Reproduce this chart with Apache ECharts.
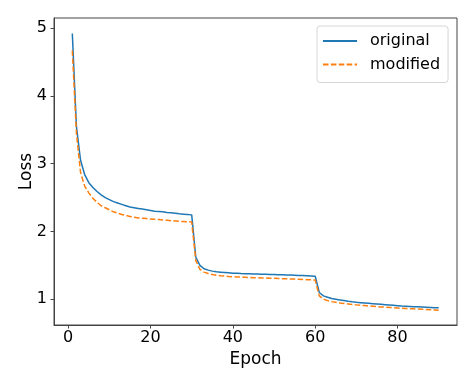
<!DOCTYPE html>
<html>
<head>
<meta charset="utf-8">
<script src="https://cdn.jsdelivr.net/npm/echarts@6/dist/echarts.min.js"></script>
<style>html,body{margin:0;padding:0;background:#fff}#c{width:474px;height:385px}</style>
</head>
<body>
<div id="c"></div>
<script>
var epochs = [];
for (var i = 1; i <= 90; i++) epochs.push(i);
var xTicks = [0, 20, 40, 60, 80];
var yTicks = [1, 2, 3, 4, 5];
var original = [
4.92,3.55,3.05,2.84,2.72,2.65,2.59,2.54,2.50,2.47,
2.44,2.42,2.40,2.38,2.36,2.35,2.34,2.33,2.32,2.31,
2.30,2.295,2.29,2.28,2.275,2.27,2.26,2.255,2.25,2.245,
1.62,1.50,1.45,1.43,1.415,1.405,1.40,1.395,1.39,1.385,
1.383,1.38,1.378,1.376,1.374,1.372,1.37,1.368,1.366,1.364,
1.362,1.36,1.358,1.356,1.354,1.352,1.35,1.347,1.344,1.34,
1.10,1.05,1.03,1.01,1.00,0.99,0.98,0.97,0.962,0.955,
0.95,0.945,0.94,0.935,0.93,0.925,0.92,0.915,0.91,0.905,
0.90,0.897,0.894,0.891,0.888,0.885,0.882,0.879,0.876,0.873
];
var modified = [
4.67,3.45,2.87,2.67,2.57,2.49,2.43,2.38,2.35,2.32,
2.29,2.27,2.25,2.24,2.22,2.21,2.20,2.195,2.19,2.185,
2.18,2.175,2.17,2.165,2.16,2.155,2.15,2.147,2.144,2.14,
1.57,1.44,1.40,1.38,1.365,1.355,1.348,1.342,1.337,1.333,
1.33,1.327,1.324,1.321,1.318,1.316,1.314,1.312,1.31,1.308,
1.306,1.304,1.302,1.30,1.298,1.295,1.292,1.289,1.286,1.283,
1.05,1.00,0.98,0.965,0.955,0.945,0.937,0.93,0.923,0.917,
0.911,0.906,0.901,0.896,0.891,0.887,0.883,0.879,0.875,0.871,
0.867,0.864,0.861,0.858,0.855,0.852,0.849,0.846,0.843,0.839
];
function pairs(arr){ return epochs.map(function(e, i){ return [e, arr[i]]; }); }

var font = 'DejaVu Sans';
var axisColor = '#444';
var chart = echarts.init(document.getElementById('c'), null, {renderer: 'canvas'});
chart.setOption({
  animation: false,
  backgroundColor: '#fff',
  textStyle: {fontFamily: font},
  grid: {left: 54, right: 17, top: 18, bottom: 60, show: true, borderColor: axisColor, borderWidth: 1, backgroundColor: 'transparent'},
  legend: {
    orient: 'vertical',
    left: 317, top: 26,
    padding: [7, 8, 10, 5],
    itemWidth: 34, itemHeight: 14, itemGap: 7.5,
    itemStyle: {opacity: 0},
    borderColor: '#d6d6d6', borderWidth: 1, borderRadius: 3,
    backgroundColor: 'rgba(255,255,255,0.8)',
    textStyle: {fontFamily: font, fontSize: 16, color: '#000', padding: [0, 0, 0, 8], lineHeight: 16},
    data: ['original', 'modified']
  },
  xAxis: {
    type: 'value', min: -3.45, max: 94.45,
    name: 'Epoch', nameLocation: 'middle', nameGap: 26, nameMoveOverlap: false,
    nameTextStyle: {fontFamily: font, fontSize: 17, color: '#000'},
    axisLine: {show: true, onZero: false, lineStyle: {color: axisColor, width: 1}},
    axisTick: {show: true, length: 3.5, lineStyle: {color: axisColor}, customValues: xTicks},
    axisLabel: {fontFamily: font, fontSize: 16, color: '#000', margin: 5, customValues: xTicks},
    splitLine: {show: false}
  },
  yAxis: {
    type: 'value', min: 0.62, max: 5.15,
    name: 'Loss', nameLocation: 'middle', nameGap: 19, nameRotate: 90, nameMoveOverlap: false,
    nameTextStyle: {fontFamily: font, fontSize: 17, color: '#000'},
    axisLine: {show: true, onZero: false, lineStyle: {color: axisColor, width: 1}},
    axisTick: {show: true, length: 3.5, lineStyle: {color: axisColor}, customValues: yTicks},
    axisLabel: {fontFamily: font, fontSize: 16, color: '#000', margin: 7, customValues: yTicks},
    splitLine: {show: false}
  },
  series: [
    {name: 'original', type: 'line', data: pairs(original), symbol: 'none', showSymbol: false,
     lineStyle: {color: '#1f77b4', width: 1.5}, itemStyle: {color: '#1f77b4'}},
    {name: 'modified', type: 'line', data: pairs(modified), symbol: 'none', showSymbol: false,
     lineStyle: {color: '#ff7f0e', width: 1.5, type: [5.5, 2.4]}, itemStyle: {color: '#ff7f0e'}}
  ]
});
</script>
</body>
</html>
